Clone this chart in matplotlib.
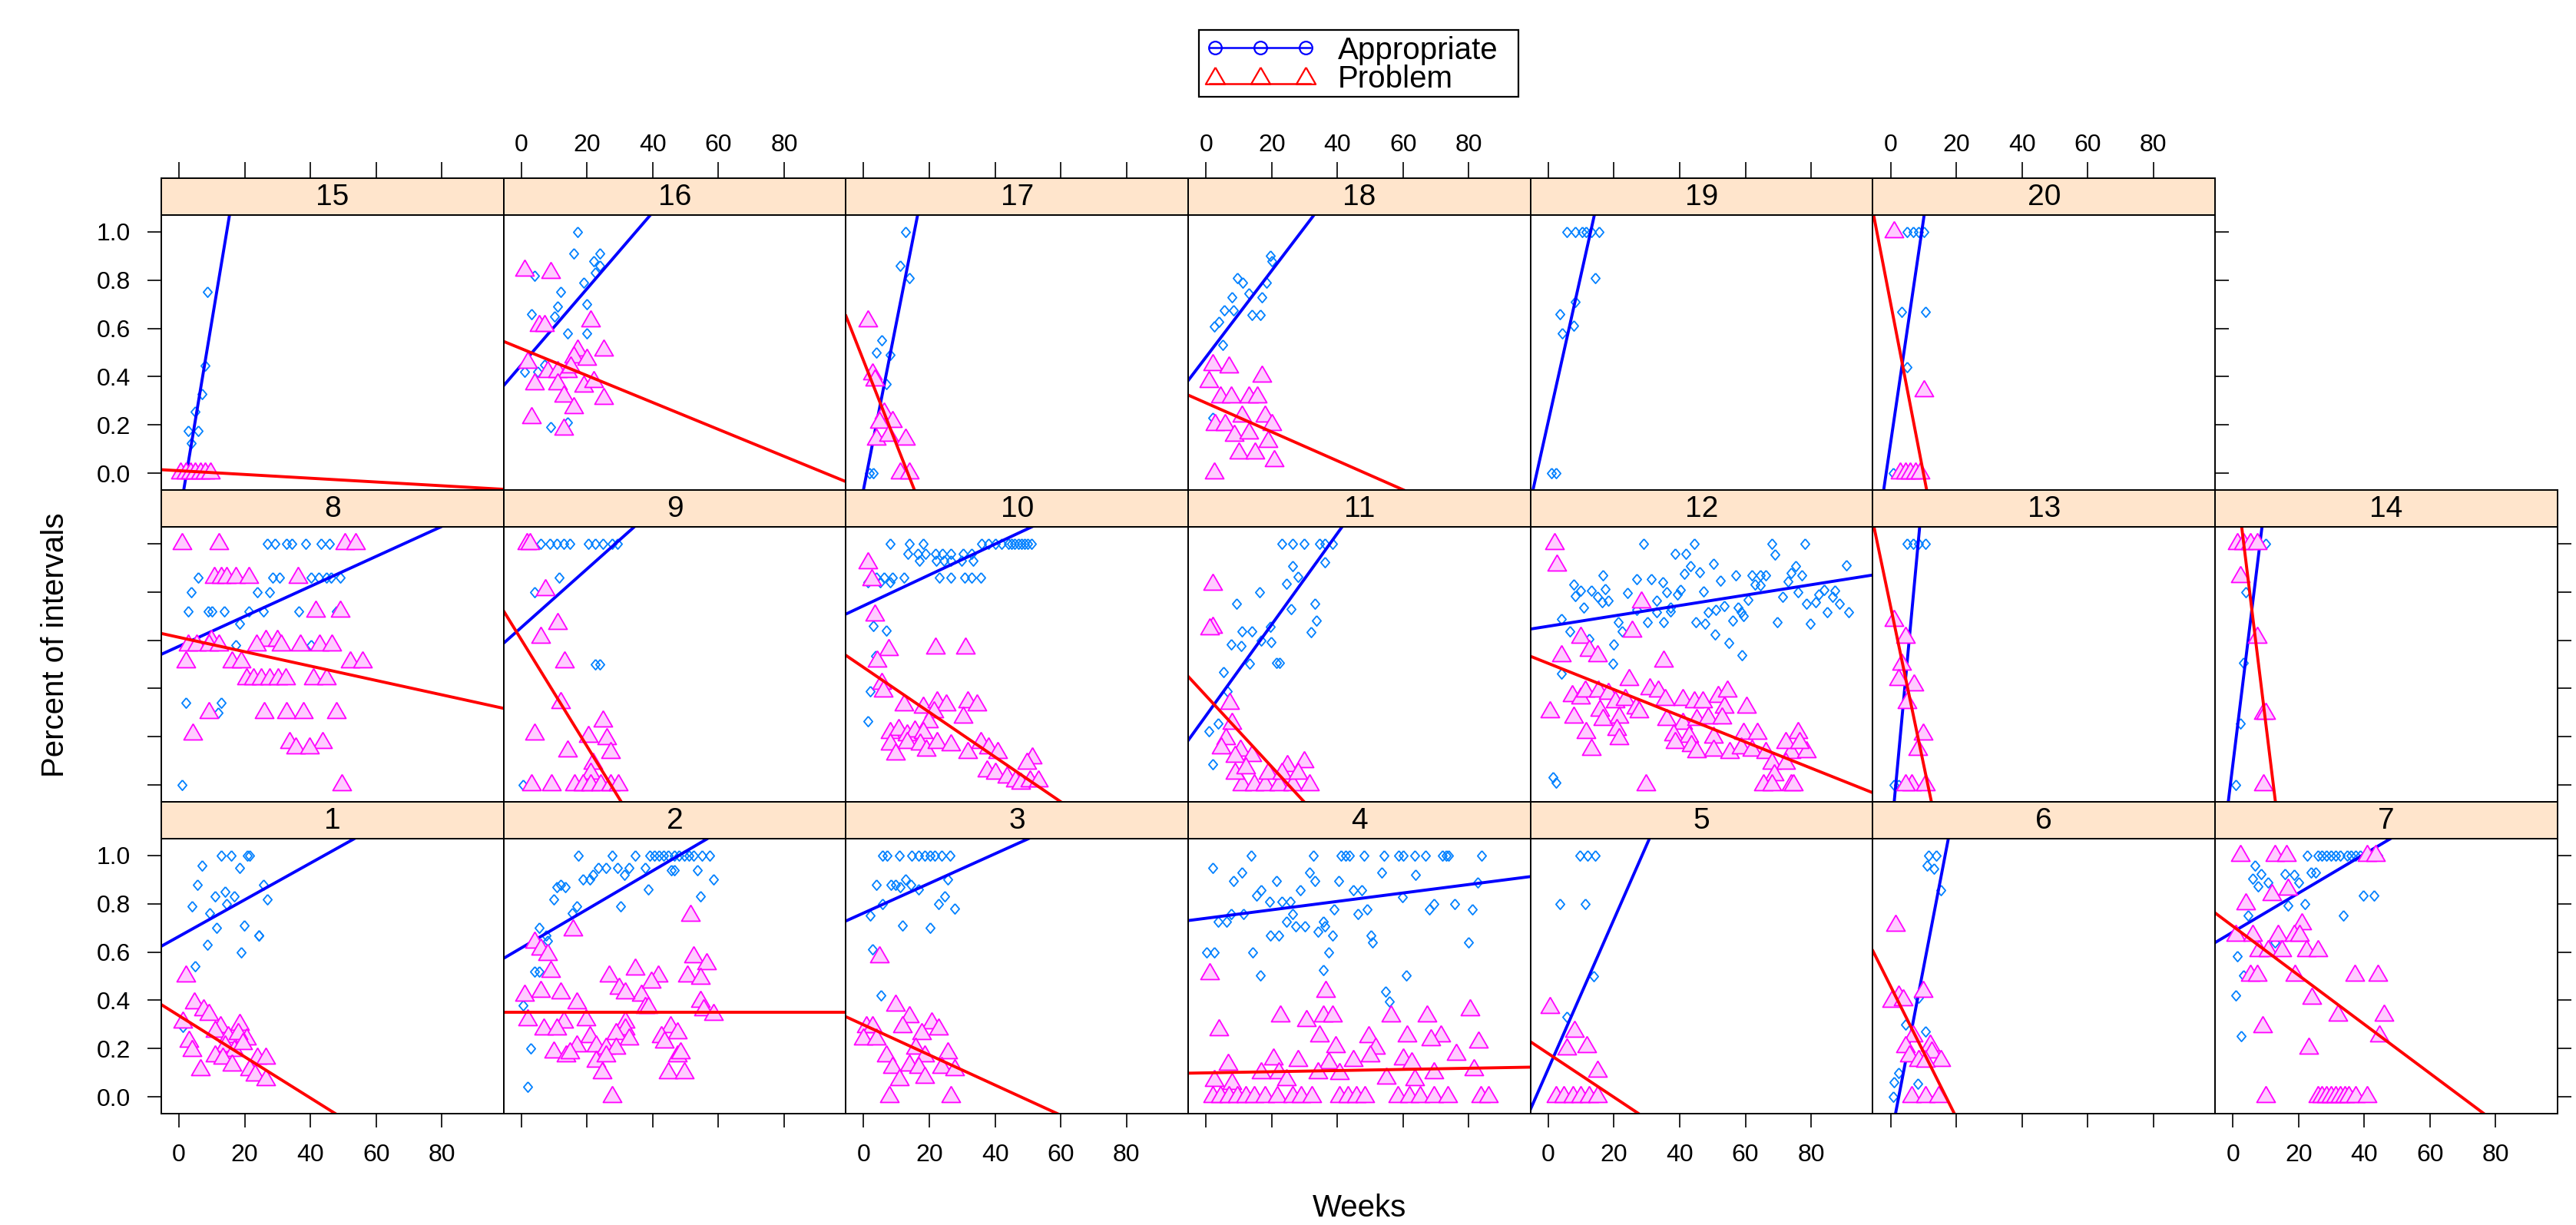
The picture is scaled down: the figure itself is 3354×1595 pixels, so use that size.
import numpy as np
import matplotlib
matplotlib.use("Agg")
import matplotlib.pyplot as plt
from matplotlib.patches import Rectangle

plt.rcParams['font.family'] = ['Liberation Sans', 'DejaVu Sans']

# ---- data: (week, percent of intervals) ----
app_1 = [(12.9, 1.0), (15.9, 1.0), (20.9, 1.0), (21.5, 1.0), (7.0, 0.96), (18.5, 0.95), (5.6, 0.88),
         (25.8, 0.88), (11.0, 0.83), (13.9, 0.85), (16.9, 0.83), (14.5, 0.80), (4.0, 0.79), (26.8, 0.82),
         (9.4, 0.76), (11.5, 0.70), (19.9, 0.71), (24.2, 0.67), (24.4, 0.67), (8.6, 0.63), (18.9, 0.60),
         (5.0, 0.54), (1.1, 0.29)]
prob_1 = [(2.0, 0.50), (4.6, 0.39), (7.4, 0.36), (9.0, 0.34), (12.5, 0.29), (18.5, 0.30), (11.0, 0.27),
          (1.1, 0.31), (3.0, 0.23), (4.0, 0.19), (14.9, 0.25), (20.5, 0.24), (17.9, 0.26), (13.9, 0.21),
          (16.9, 0.19), (19.3, 0.22), (11.0, 0.17), (13.3, 0.16), (16.1, 0.13), (6.6, 0.11), (23.8, 0.16),
          (26.4, 0.16), (21.5, 0.11), (23.2, 0.09), (26.4, 0.07)]

app_2 = [(17.4, 1.0), (27.7, 1.0), (34.7, 1.0), (39.2, 1.0), (40.6, 1.0), (42.0, 1.0), (43.2, 1.0),
         (44.6, 1.0), (46.5, 1.0), (47.9, 1.0), (49.5, 1.0), (51.1, 1.0), (52.5, 1.0), (55.1, 1.0),
         (57.4, 1.0), (23.4, 0.95), (25.7, 0.95), (29.3, 0.95), (32.7, 0.95), (37.6, 0.95), (45.6, 0.94),
         (46.5, 0.94), (53.5, 0.94), (21.8, 0.92), (31.3, 0.92), (18.8, 0.90), (20.8, 0.90), (58.4, 0.90),
         (11.9, 0.88), (38.6, 0.86), (10.9, 0.87), (13.4, 0.87), (9.9, 0.82), (54.5, 0.83), (16.8, 0.79),
         (30.3, 0.79), (15.4, 0.76), (5.5, 0.70), (7.5, 0.67), (7.9, 0.645), (4.0, 0.52), (5.5, 0.52),
         (0.4, 0.38), (2.9, 0.20), (2.0, 0.04)]
prob_2 = [(51.5, 0.75), (15.8, 0.69), (4.0, 0.64), (5.9, 0.61), (7.9, 0.59), (8.9, 0.52), (52.5, 0.58),
          (56.5, 0.55), (34.7, 0.53), (41.6, 0.50), (50.5, 0.50), (54.5, 0.49), (26.7, 0.50), (29.7, 0.45),
          (36.6, 0.42), (39.6, 0.475), (1.0, 0.42), (5.9, 0.435), (11.9, 0.43), (16.8, 0.39), (31.7, 0.43),
          (37.6, 0.37), (38.6, 0.37), (54.5, 0.395), (55.5, 0.36), (58.4, 0.34), (2.0, 0.32), (12.9, 0.31),
          (19.8, 0.32), (31.7, 0.31), (6.9, 0.28), (10.9, 0.28), (31.7, 0.28), (45.5, 0.29), (47.5, 0.265),
          (20.8, 0.25), (28.7, 0.26), (32.7, 0.24), (42.6, 0.25), (43.6, 0.225), (16.8, 0.21), (22.8, 0.21),
          (25.7, 0.20), (28.7, 0.20), (9.9, 0.185), (13.7, 0.17), (14.8, 0.18), (47.5, 0.17), (48.5, 0.18),
          (22.8, 0.145), (25.7, 0.17), (24.7, 0.10), (44.6, 0.10), (49.5, 0.10), (27.7, 0.0)]

app_3 = [(5.8, 1.0), (7.2, 1.0), (10.8, 1.0), (14.7, 1.0), (16.7, 1.0), (18.7, 1.0), (20.3, 1.0),
         (21.7, 1.0), (23.7, 1.0), (26.2, 1.0), (25.6, 0.90), (3.8, 0.88), (8.4, 0.88), (9.8, 0.88),
         (14.3, 0.88), (12.8, 0.90), (11.2, 0.87), (16.7, 0.86), (24.7, 0.83), (5.8, 0.80), (22.7, 0.80),
         (27.6, 0.78), (1.9, 0.75), (11.8, 0.71), (20.3, 0.70), (2.8, 0.61), (5.2, 0.42)]
prob_3 = [(4.8, 0.58), (9.8, 0.38), (0.9, 0.29), (2.8, 0.29), (13.8, 0.33), (11.8, 0.29), (20.7, 0.305),
          (22.7, 0.28), (17.7, 0.26), (0.0, 0.24), (3.8, 0.24), (6.8, 0.17), (15.7, 0.20), (18.7, 0.17),
          (8.8, 0.12), (13.8, 0.13), (16.7, 0.12), (10.8, 0.07), (18.7, 0.08), (25.6, 0.18), (23.7, 0.12),
          (27.6, 0.11), (7.8, 0.0), (26.6, 0.0)]

app_4 = [(13.8, 1.0), (32.6, 1.0), (41.2, 1.0), (42.4, 1.0), (43.6, 1.0), (48.0, 1.0), (54.2, 1.0),
         (58.7, 1.0), (60.1, 1.0), (63.5, 1.0), (66.8, 1.0), (71.9, 1.0), (73.2, 1.0), (73.9, 1.0),
         (84.0, 1.0), (2.0, 0.95), (10.9, 0.93), (31.5, 0.93), (53.4, 0.93), (63.8, 0.92), (8.4, 0.895),
         (21.4, 0.895), (33.1, 0.895), (40.4, 0.895), (82.8, 0.89), (16.8, 0.856), (28.6, 0.856),
         (44.9, 0.856), (47.5, 0.856), (15.5, 0.833), (59.8, 0.827), (19.3, 0.81), (23.0, 0.81),
         (25.6, 0.81), (69.4, 0.80), (75.7, 0.80), (39.0, 0.776), (49.1, 0.776), (68.0, 0.776),
         (81.1, 0.776), (7.6, 0.759), (11.3, 0.759), (26.4, 0.759), (46.3, 0.759), (3.7, 0.725),
         (6.2, 0.725), (24.4, 0.725), (35.7, 0.725), (27.3, 0.708), (30.1, 0.708), (36.2, 0.708),
         (34.0, 0.685), (19.7, 0.67), (22.2, 0.67), (38.5, 0.67), (50.3, 0.67), (50.8, 0.64), (80.0, 0.64),
         (0.3, 0.60), (2.5, 0.60), (14.3, 0.60), (37.4, 0.60), (35.7, 0.526), (16.6, 0.503), (60.9, 0.503),
         (54.7, 0.435), (55.9, 0.395)]
prob_4 = [(1.2, 0.51), (36.5, 0.435), (22.7, 0.333), (30.6, 0.316), (35.7, 0.333), (38.5, 0.333),
          (56.4, 0.333), (67.3, 0.333), (80.3, 0.361), (4.0, 0.276), (34.5, 0.253), (61.3, 0.253),
          (71.4, 0.253), (49.6, 0.248), (68.5, 0.236), (83.0, 0.225), (39.5, 0.208), (51.7, 0.202),
          (76.1, 0.174), (6.7, 0.134), (20.5, 0.157), (28.1, 0.151), (37.4, 0.14), (44.9, 0.151),
          (50.0, 0.168), (60.1, 0.157), (62.6, 0.14), (16.8, 0.10), (22.2, 0.10), (34.0, 0.10),
          (40.7, 0.095), (55.0, 0.075), (63.5, 0.07), (69.4, 0.10), (81.6, 0.111), (2.5, 0.066),
          (7.9, 0.054), (24.4, 0.071), (2.0, 0.0), (4.5, 0.0), (7.0, 0.0), (9.6, 0.0), (12.1, 0.0),
          (14.6, 0.0), (18.0, 0.0), (21.7, 0.0), (26.4, 0.0), (28.9, 0.0), (32.3, 0.0), (40.7, 0.0),
          (43.2, 0.0), (45.8, 0.0), (48.3, 0.0), (58.4, 0.0), (61.8, 0.0), (65.1, 0.0), (69.4, 0.0),
          (73.6, 0.0), (83.7, 0.0), (85.9, 0.0)]

app_5 = [(9.5, 1.0), (11.9, 1.0), (14.4, 1.0), (3.5, 0.80), (11.2, 0.80), (13.8, 0.50), (5.7, 0.33),
         (1.8, 0.0), (13.2, 0.0)]
prob_5 = [(0.6, 0.37), (7.9, 0.27), (5.7, 0.196), (11.6, 0.208), (14.9, 0.106), (2.3, 0.0), (4.8, 0.0),
          (7.4, 0.0), (9.9, 0.0), (12.4, 0.0), (14.9, 0.0)]

app_6 = [(11.5, 1.0), (14.0, 1.0), (11.0, 0.96), (13.3, 0.946), (15.3, 0.856), (8.5, 0.41), (4.5, 0.30),
         (10.6, 0.27), (2.4, 0.10), (1.1, 0.06), (8.3, 0.055), (0.7, 0.0)]
prob_6 = [(1.5, 0.71), (2.4, 0.418), (0.4, 0.395), (3.8, 0.40), (9.9, 0.435), (6.9, 0.253), (4.5, 0.208),
          (12.0, 0.214), (5.6, 0.168), (8.5, 0.151), (12.6, 0.185), (15.3, 0.151), (10.6, 0.145),
          (6.5, 0.0), (10.6, 0.0), (14.6, 0.0)]

app_7 = [(22.7, 1.0), (25.8, 1.0), (27.1, 1.0), (28.5, 1.0), (29.9, 1.0), (31.2, 1.0), (32.6, 1.0),
         (34.7, 1.0), (36.0, 1.0), (37.4, 1.0), (38.8, 1.0), (40.1, 1.0), (42.2, 1.0), (44.2, 1.0),
         (6.8, 0.96), (8.6, 0.924), (15.9, 0.924), (18.6, 0.92), (23.7, 0.93), (25.1, 0.93), (5.9, 0.904),
         (10.7, 0.89), (20.0, 0.89), (7.7, 0.873), (39.7, 0.834), (42.9, 0.834), (16.8, 0.793),
         (21.9, 0.799), (4.5, 0.753), (33.7, 0.75), (12.7, 0.64), (1.4, 0.583), (3.2, 0.503), (0.8, 0.42),
         (2.5, 0.253)]
prob_7 = [(2.2, 1.0), (12.7, 1.0), (16.2, 1.0), (40.8, 1.0), (43.3, 1.0), (16.8, 0.861), (11.8, 0.839),
          (3.8, 0.799), (21.0, 0.716), (0.8, 0.668), (5.9, 0.668), (13.8, 0.668), (18.6, 0.668),
          (20.3, 0.668), (7.9, 0.606), (10.7, 0.606), (14.8, 0.606), (22.3, 0.606), (25.8, 0.606),
          (5.2, 0.503), (7.3, 0.503), (18.9, 0.503), (37.0, 0.503), (44.2, 0.503), (24.1, 0.407),
          (31.9, 0.339), (45.9, 0.339), (9.0, 0.291), (44.7, 0.253), (23.0, 0.202), (10.0, 0.0),
          (25.8, 0.0), (27.1, 0.0), (28.5, 0.0), (29.9, 0.0), (31.2, 0.0), (32.6, 0.0), (34.0, 0.0),
          (35.3, 0.0), (37.4, 0.0), (40.8, 0.0)]

app_8 = [(26.8, 1.0), (29.3, 1.0), (32.7, 1.0), (34.4, 1.0), (38.6, 1.0), (43.3, 1.0), (45.8, 1.0),
         (5.8, 0.86), (28.5, 0.86), (30.7, 0.86), (40.3, 0.86), (42.5, 0.86), (44.8, 0.86), (46.2, 0.86),
         (49.0, 0.86), (3.7, 0.80), (23.9, 0.80), (27.6, 0.80), (2.7, 0.72), (8.8, 0.72), (10.0, 0.72),
         (13.8, 0.72), (21.3, 0.72), (25.6, 0.72), (36.4, 0.72), (47.8, 0.72), (18.4, 0.67), (17.2, 0.58),
         (40.3, 0.58), (2.1, 0.34), (12.9, 0.34), (12.0, 0.30), (1.0, 0.0)]
prob_8 = [(1.0, 1.0), (12.2, 1.0), (50.4, 1.0), (53.7, 1.0), (10.8, 0.86), (12.9, 0.86), (14.5, 0.86),
          (17.2, 0.86), (21.3, 0.86), (36.1, 0.86), (41.6, 0.72), (49.0, 0.72), (9.7, 0.60), (26.4, 0.60),
          (29.9, 0.60), (2.7, 0.58), (5.4, 0.58), (9.1, 0.58), (12.2, 0.58), (23.5, 0.58), (31.0, 0.58),
          (36.9, 0.58), (42.8, 0.58), (46.5, 0.58), (2.1, 0.51), (16.2, 0.51), (18.9, 0.51), (52.1, 0.51),
          (55.9, 0.51), (20.6, 0.44), (22.6, 0.44), (25.1, 0.44), (27.6, 0.44), (30.2, 0.44), (32.4, 0.44),
          (40.8, 0.44), (44.8, 0.44), (9.1, 0.30), (26.0, 0.30), (32.7, 0.30), (37.8, 0.30), (47.8, 0.30),
          (4.1, 0.21), (33.6, 0.175), (43.6, 0.175), (35.5, 0.154), (39.8, 0.154), (49.5, 0.0)]

app_9 = [(6.0, 1.0), (8.6, 1.0), (10.8, 1.0), (12.8, 1.0), (14.8, 1.0), (20.3, 1.0), (22.5, 1.0),
         (24.9, 1.0), (27.6, 1.0), (29.3, 1.0), (11.6, 0.86), (4.0, 0.80), (22.4, 0.50), (24.0, 0.50),
         (0.6, 0.0)]
prob_9 = [(1.8, 1.0), (2.7, 1.0), (7.2, 0.81), (11.1, 0.67), (6.0, 0.61), (13.1, 0.51), (11.9, 0.34),
          (24.9, 0.265), (4.0, 0.21), (20.3, 0.20), (25.9, 0.19), (14.1, 0.14), (27.1, 0.133),
          (21.7, 0.09), (21.2, 0.048), (3.2, 0.0), (9.1, 0.0), (16.1, 0.0), (18.7, 0.0), (21.2, 0.0),
          (24.2, 0.0), (27.1, 0.0), (29.6, 0.0)]

app_10 = [(8.0, 1.0), (13.9, 1.0), (18.1, 1.0), (36.0, 1.0), (38.0, 1.0), (40.0, 1.0), (42.0, 1.0),
          (44.0, 1.0), (45.0, 1.0), (46.0, 1.0), (47.0, 1.0), (48.0, 1.0), (49.0, 1.0), (50.0, 1.0),
          (51.0, 1.0), (13.4, 0.96), (16.4, 0.96), (18.9, 0.96), (21.8, 0.96), (24.0, 0.96), (26.5, 0.96),
          (30.2, 0.96), (32.9, 0.96), (16.9, 0.93), (22.2, 0.93), (24.4, 0.93), (26.5, 0.93), (29.9, 0.93),
          (33.3, 0.93), (3.8, 0.86), (6.3, 0.86), (8.8, 0.86), (12.2, 0.86), (23.1, 0.86), (26.5, 0.86),
          (30.7, 0.86), (32.9, 0.86), (35.7, 0.86), (1.3, 0.84), (5.0, 0.84), (8.0, 0.84), (3.0, 0.66),
          (6.8, 0.64), (3.6, 0.535), (2.1, 0.39), (1.2, 0.265)]
prob_10 = [(1.2, 0.92), (2.4, 0.85), (3.3, 0.705), (7.6, 0.56), (21.8, 0.567), (30.9, 0.567), (4.2, 0.514),
           (5.4, 0.42), (5.9, 0.387), (12.2, 0.33), (18.1, 0.323), (22.3, 0.345), (25.2, 0.33), (31.6, 0.345),
           (34.5, 0.33), (21.4, 0.303), (30.2, 0.281), (19.8, 0.26), (8.0, 0.218), (10.6, 0.228),
           (13.1, 0.207), (15.6, 0.223), (18.1, 0.218), (8.0, 0.17), (13.1, 0.175), (17.2, 0.17),
           (9.7, 0.127), (19.0, 0.143), (22.3, 0.175), (26.5, 0.165), (31.6, 0.133), (35.7, 0.175),
           (38.1, 0.154), (40.7, 0.133), (37.6, 0.058), (40.2, 0.048), (43.5, 0.032), (46.1, 0.016),
           (47.8, 0.005), (51.4, 0.11), (49.7, 0.09), (50.6, 0.016), (53.1, 0.016)]

app_11 = [(23.0, 1.0), (26.4, 1.0), (29.8, 1.0), (34.5, 1.0), (36.2, 1.0), (38.5, 1.0), (26.4, 0.907),
          (36.2, 0.922), (28.1, 0.864), (24.4, 0.835), (16.3, 0.80), (9.3, 0.753), (26.0, 0.728),
          (33.2, 0.753), (33.7, 0.682), (31.9, 0.634), (11.0, 0.636), (14.0, 0.636), (19.5, 0.657),
          (7.6, 0.583), (10.6, 0.578), (16.9, 0.599), (19.8, 0.591), (13.3, 0.504), (21.4, 0.506),
          (22.3, 0.506), (5.4, 0.467), (6.6, 0.387), (3.7, 0.254), (0.8, 0.223), (2.0, 0.085)]
prob_11 = [(2.0, 0.832), (2.0, 0.652), (1.2, 0.645), (7.2, 0.339), (8.0, 0.254), (6.0, 0.191), (4.6, 0.154),
           (10.5, 0.143), (13.9, 0.122), (8.9, 0.117), (29.8, 0.095), (24.7, 0.08), (10.9, 0.0), (14.6, 0.0),
           (18.0, 0.0), (22.2, 0.0), (26.4, 0.0), (31.5, 0.0), (18.8, 0.048), (23.0, 0.048), (28.1, 0.048),
           (8.9, 0.048), (12.1, 0.069)]

app_12 = [(28.9, 1.0), (44.4, 1.0), (68.0, 1.0), (78.0, 1.0), (38.5, 0.96), (41.8, 0.96), (69.1, 0.955),
          (43.2, 0.907), (50.3, 0.917), (90.7, 0.91), (75.2, 0.907), (16.6, 0.87), (41.5, 0.875),
          (46.0, 0.883), (57.0, 0.87), (62.0, 0.87), (64.6, 0.87), (66.3, 0.87), (73.8, 0.88), (77.2, 0.87),
          (27.0, 0.854), (31.4, 0.852), (34.8, 0.841), (52.3, 0.848), (62.9, 0.832), (64.6, 0.827),
          (73.0, 0.843), (7.8, 0.832), (9.9, 0.806), (13.2, 0.806), (17.4, 0.811), (40.2, 0.81), (36.0, 0.80),
          (47.2, 0.803), (24.2, 0.795), (84.0, 0.81), (87.3, 0.806), (8.2, 0.785), (15.0, 0.779),
          (18.3, 0.764), (33.1, 0.764), (39.3, 0.79), (37.1, 0.737), (71.3, 0.78), (75.9, 0.80),
          (82.3, 0.79), (86.5, 0.78), (88.6, 0.753), (78.6, 0.753), (81.4, 0.758), (10.7, 0.737),
          (16.3, 0.758), (53.6, 0.742), (51.1, 0.726), (57.8, 0.737), (60.7, 0.769), (27.0, 0.726),
          (33.1, 0.715), (37.1, 0.72), (48.6, 0.715), (58.7, 0.715), (84.8, 0.715), (91.5, 0.715),
          (4.0, 0.689), (21.3, 0.675), (30.1, 0.675), (35.1, 0.675), (44.9, 0.675), (47.7, 0.67),
          (56.2, 0.68), (59.5, 0.70), (69.6, 0.675), (79.7, 0.67), (6.5, 0.636), (22.5, 0.636),
          (12.4, 0.604), (50.8, 0.625), (55.0, 0.59), (20.0, 0.583), (59.0, 0.538), (19.6, 0.504),
          (4.0, 0.461), (1.4, 0.032), (2.3, 0.011)]
prob_12 = [(1.8, 1.0), (2.6, 0.912), (28.4, 0.758), (25.4, 0.636), (9.9, 0.61), (4.0, 0.536), (12.4, 0.557),
           (14.9, 0.536), (35.1, 0.514), (24.5, 0.435), (7.3, 0.37), (9.9, 0.36), (11.2, 0.39), (15.2, 0.39),
           (18.3, 0.38), (31.0, 0.398), (33.5, 0.387), (35.5, 0.355), (20.3, 0.345), (23.3, 0.355),
           (26.7, 0.318), (15.7, 0.308), (41.0, 0.355), (44.4, 0.345), (46.9, 0.345), (51.6, 0.366),
           (54.5, 0.387), (60.4, 0.323), (53.6, 0.323), (0.6, 0.302), (7.8, 0.281), (16.6, 0.27),
           (21.6, 0.281), (27.5, 0.302), (36.0, 0.27), (41.0, 0.254), (45.2, 0.27), (48.6, 0.276),
           (52.8, 0.276), (11.5, 0.217), (20.8, 0.228), (21.6, 0.191), (38.1, 0.207), (42.7, 0.201),
           (50.3, 0.196), (38.5, 0.175), (43.5, 0.164), (59.5, 0.212), (63.7, 0.212), (13.2, 0.148),
           (45.2, 0.138), (50.3, 0.143), (55.3, 0.133), (58.7, 0.154), (62.0, 0.143), (66.3, 0.133),
           (73.8, 0.133), (78.6, 0.138), (76.0, 0.217), (72.2, 0.175), (76.4, 0.175), (68.0, 0.09),
           (72.2, 0.09), (68.8, 0.043), (73.8, 0.0), (65.4, 0.0), (68.0, 0.0), (74.7, 0.0), (29.7, 0.0)]

app_13 = [(5.1, 1.0), (6.9, 1.0), (8.5, 1.0), (10.6, 1.0), (1.1, 0.0), (2.4, 0.0)]
prob_13 = [(1.1, 0.68), (4.5, 0.61), (3.4, 0.50), (2.4, 0.435), (7.2, 0.414), (5.1, 0.34), (9.9, 0.21),
           (8.3, 0.148), (6.5, 0.0), (10.6, 0.0), (4.5, 0.0)]

app_14 = [(9.9, 1.0), (4.0, 0.80), (3.1, 0.506), (2.3, 0.254), (0.9, 0.0)]
prob_14 = [(1.3, 1.0), (3.3, 1.0), (5.2, 1.0), (7.3, 1.0), (2.3, 0.864), (7.3, 0.61), (9.3, 0.297),
           (10.0, 0.297), (9.3, 0.0)]

app_15 = [(8.6, 0.75), (7.9, 0.445), (7.1, 0.327), (4.9, 0.255), (2.7, 0.176), (5.8, 0.176), (3.7, 0.123)]
prob_15 = [(0.5, 0.0), (2.0, 0.0), (3.5, 0.0), (5.0, 0.0), (6.5, 0.0), (8.0, 0.0), (9.5, 0.0)]

app_16 = [(17, 1.0), (16, 0.91), (24, 0.91), (22, 0.88), (24, 0.86), (4, 0.82), (22.5, 0.83), (19, 0.79),
          (12, 0.75), (20, 0.70), (11, 0.69), (3, 0.66), (10, 0.65), (14, 0.58), (20, 0.58), (7, 0.45),
          (1, 0.42), (5, 0.42), (14, 0.21), (9, 0.19)]
prob_16 = [(1, 0.84), (9, 0.83), (5.5, 0.61), (7, 0.61), (21, 0.63), (17, 0.51), (25, 0.51), (2, 0.46),
           (16, 0.48), (20, 0.47), (8, 0.42), (11, 0.42), (14, 0.42), (15, 0.44), (4, 0.37), (11, 0.37),
           (19, 0.36), (22, 0.38), (13, 0.32), (25, 0.31), (16, 0.27), (3, 0.23), (13, 0.18)]

app_17 = [(12.7, 1.0), (11, 0.86), (14, 0.81), (5.6, 0.55), (3.8, 0.50), (8, 0.49), (7, 0.37), (1.7, 0.0),
          (3, 0.0)]
prob_17 = [(1.2, 0.63), (2.6, 0.41), (3.5, 0.385), (6.3, 0.25), (8.8, 0.215), (4.8, 0.21), (3.8, 0.14),
           (7.7, 0.157), (12.7, 0.14), (11, 0.0), (13.9, 0.0)]

app_18 = [(19.7, 0.90), (20, 0.88), (9.6, 0.81), (11.2, 0.79), (18.5, 0.79), (13, 0.745), (8, 0.73),
          (17, 0.73), (5.5, 0.674), (8.4, 0.674), (14, 0.655), (16.6, 0.655), (4, 0.627), (2.5, 0.608),
          (5, 0.533), (2, 0.23)]
prob_18 = [(2, 0.45), (7, 0.44), (1, 0.38), (17, 0.40), (4.3, 0.316), (7.6, 0.316), (13, 0.316),
           (15.7, 0.316), (2.8, 0.2), (5.9, 0.2), (11, 0.236), (18, 0.236), (20, 0.2), (8.7, 0.157),
           (13, 0.167), (19, 0.13), (9.9, 0.083), (15, 0.083), (20.7, 0.05), (2.6, 0.0)]

app_19 = [(5.6, 1.0), (8.2, 1.0), (10.2, 1.0), (11.5, 1.0), (13.2, 1.0), (15.4, 1.0), (14.2, 0.81),
          (8.2, 0.71), (3.6, 0.66), (7.8, 0.61), (4.2, 0.58), (0.9, 0.0), (2.3, 0.0)]
prob_19 = []

app_20 = [(5.1, 1.0), (6.9, 1.0), (8.5, 1.0), (10.2, 1.0), (3.4, 0.67), (10.7, 0.67), (5.1, 0.44), (0.7, 0.0)]
prob_20 = [(1, 1.0), (10.2, 0.34), (3, 0.0), (4.5, 0.0), (6, 0.0), (7.5, 0.0), (9, 0.0)]

# fitted lines (intercept, slope) per subject
app_fit = [(0.665, 0.00759), (0.617, 0.0080), (0.762, 0.00614), (0.740, 0.00175), (0.116, 0.031),
           (-0.176, 0.0709), (0.683, 0.00807), (0.575, 0.00621), (0.653, 0.01213), (0.743, 0.00639),
           (0.287, 0.0189), (0.658, 0.00215), (-0.231, 0.147), (0.087, 0.111), (-0.187, 0.0818),
           (0.448, 0.01584), (-0.065, 0.0691), (0.481, 0.01792), (0.2145, 0.061), (0.125, 0.0925)]
prob_fit = [(0.336, -0.00853), (0.350, 0.0), (0.298, -0.00624), (0.099, 0.00024), (0.179, -0.00905),
            (0.458, -0.0272), (0.707, -0.01017), (0.612, -0.00298), (0.602, -0.0221), (0.487, -0.00928),
            (0.370, -0.01473), (0.504, -0.00543), (0.740, -0.0652), (1.366, -0.111), (0.010, -0.00078),
            (0.516, -0.00558), (0.465, -0.0346), (0.291, -0.0060), None, (0.705, -0.0706)]

app_pts = [app_1, app_2, app_3, app_4, app_5, app_6, app_7, app_8, app_9, app_10,
           app_11, app_12, app_13, app_14, app_15, app_16, app_17, app_18, app_19, app_20]
prob_pts = [prob_1, prob_2, prob_3, prob_4, prob_5, prob_6, prob_7, prob_8, prob_9, prob_10,
            prob_11, prob_12, prob_13, prob_14, prob_15, prob_16, prob_17, prob_18, prob_19, prob_20]

week_ticks = [0, 20, 40, 60, 80]
pct_ticks = [0.0, 0.2, 0.4, 0.6, 0.8, 1.0]
x_range = (-5.4, 98.8)
y_range = (-0.07, 1.07)

# ---- layout in pixels ----
W, H, DPI = 3355, 1595, 100
PANEL_L, PANEL_W = 210, 445.7
ROW_TOP, ROW_H, STRIP_H, PANEL_H = 232, 406, 48, 358

DIAMOND = [(0, 1), (-0.85, 0), (0, -1), (0.85, 0), (0, 1)]
TRIANGLE = [(0, 1), (-0.866, -0.5), (0.866, -0.5), (0, 1)]

fig = plt.figure(figsize=(W / DPI, H / DPI), dpi=DPI)


def px_axes(left, top, width, height):
    return fig.add_axes([left / W, 1 - (top + height) / H, width / W, height / H])


for p in range(1, 21):
    row = 2 - (p - 1) // 7
    col = (p - 1) % 7
    left = PANEL_L + col * PANEL_W
    top = ROW_TOP + row * ROW_H

    # strip
    st = px_axes(left, top, PANEL_W, STRIP_H)
    st.set_facecolor('#ffe5cc')
    st.set_xlim(*x_range)
    st.set_ylim(0, 1)
    st.set_yticks([])
    st.text(0.5, 0.48, str(p), transform=st.transAxes, ha='center', va='center', fontsize=28)
    for sp in st.spines.values():
        sp.set_linewidth(1.4)
    if row == 0:
        st.xaxis.set_ticks_position('top')
        st.set_xticks(week_ticks)
        st.tick_params(axis='x', direction='out', length=15, width=1.2, labelsize=23, pad=5,
                       labeltop=(col % 2 == 1), labelbottom=False)
    else:
        st.set_xticks([])

    # panel
    ax = px_axes(left, top + STRIP_H, PANEL_W, PANEL_H)
    ax.set_xlim(*x_range)
    ax.set_ylim(*y_range)
    for sp in ax.spines.values():
        sp.set_linewidth(1.4)
    ax.set_xticks(week_ticks)
    ax.set_yticks(pct_ticks)
    ax.set_yticklabels([f"{v:.1f}" for v in pct_ticks])
    last_in_row = p in (7, 14, 20)
    ax.tick_params(axis='y', direction='out', length=13, width=1.2, labelsize=23, pad=16,
                   left=(col == 0), right=last_in_row,
                   labelleft=(col == 0 and row != 1), labelright=False)
    ax.tick_params(axis='x', direction='out', length=13, width=1.2, labelsize=23, pad=15,
                   bottom=(row == 2), top=False, labelbottom=(row == 2 and col % 2 == 0))

    xs_line = np.array(x_range)
    app = app_pts[p - 1]
    if app:
        ax_, ay_ = np.array(app).T
        ax.plot(ax_, ay_, linestyle='none', marker=DIAMOND, markersize=9.5,
                markerfacecolor='none', markeredgecolor='#0080ff', markeredgewidth=1.3)
    a, b = app_fit[p - 1]
    ax.plot(xs_line, a + b * xs_line, color='#0000ff', lw=2.8)

    prob = prob_pts[p - 1]
    if prob:
        px_, py_ = np.array(prob).T
        ax.plot(px_, py_, linestyle='none', marker=TRIANGLE, markersize=20,
                markerfacecolor='#ffccff', markeredgecolor='#ff00ff', markeredgewidth=1.3)
    if prob_fit[p - 1] is not None:
        a, b = prob_fit[p - 1]
        ax.plot(xs_line, a + b * xs_line, color='#ff0000', lw=2.8)

# ---- overlay: legend and axis titles ----
ov = fig.add_axes([0, 0, 1, 1])
ov.set_xlim(0, W)
ov.set_ylim(H, 0)
ov.axis('off')

ov.add_patch(Rectangle((1561, 39), 416, 87, fill=False, edgecolor='black', lw=1.6))
key_x = np.array([1582, 1641, 1700])
ov.plot([1575, 1706], [62, 62], color='#0000ff', lw=1.8)
ov.plot(key_x, [62, 62, 62], linestyle='none', marker='o', markersize=12,
        markerfacecolor='none', markeredgecolor='#0000ff', markeredgewidth=1.6)
ov.plot([1575, 1706], [109, 109], color='#ff0000', lw=1.8)
ov.plot(key_x, [102, 102, 102], linestyle='none', marker=TRIANGLE, markersize=21,
        markerfacecolor='none', markeredgecolor='#ff0000', markeredgewidth=1.6)
ov.text(1742, 77, 'Appropriate', fontsize=29, ha='left', va='baseline')
ov.text(1742, 114, 'Problem', fontsize=29, ha='left', va='baseline')

ov.text(1770, 1573, 'Weeks', fontsize=29, ha='center', va='center')
ov.text(72, 840, 'Percent of intervals', fontsize=29, ha='center', va='center', rotation=90)

fig.savefig('out.png', dpi=DPI)
